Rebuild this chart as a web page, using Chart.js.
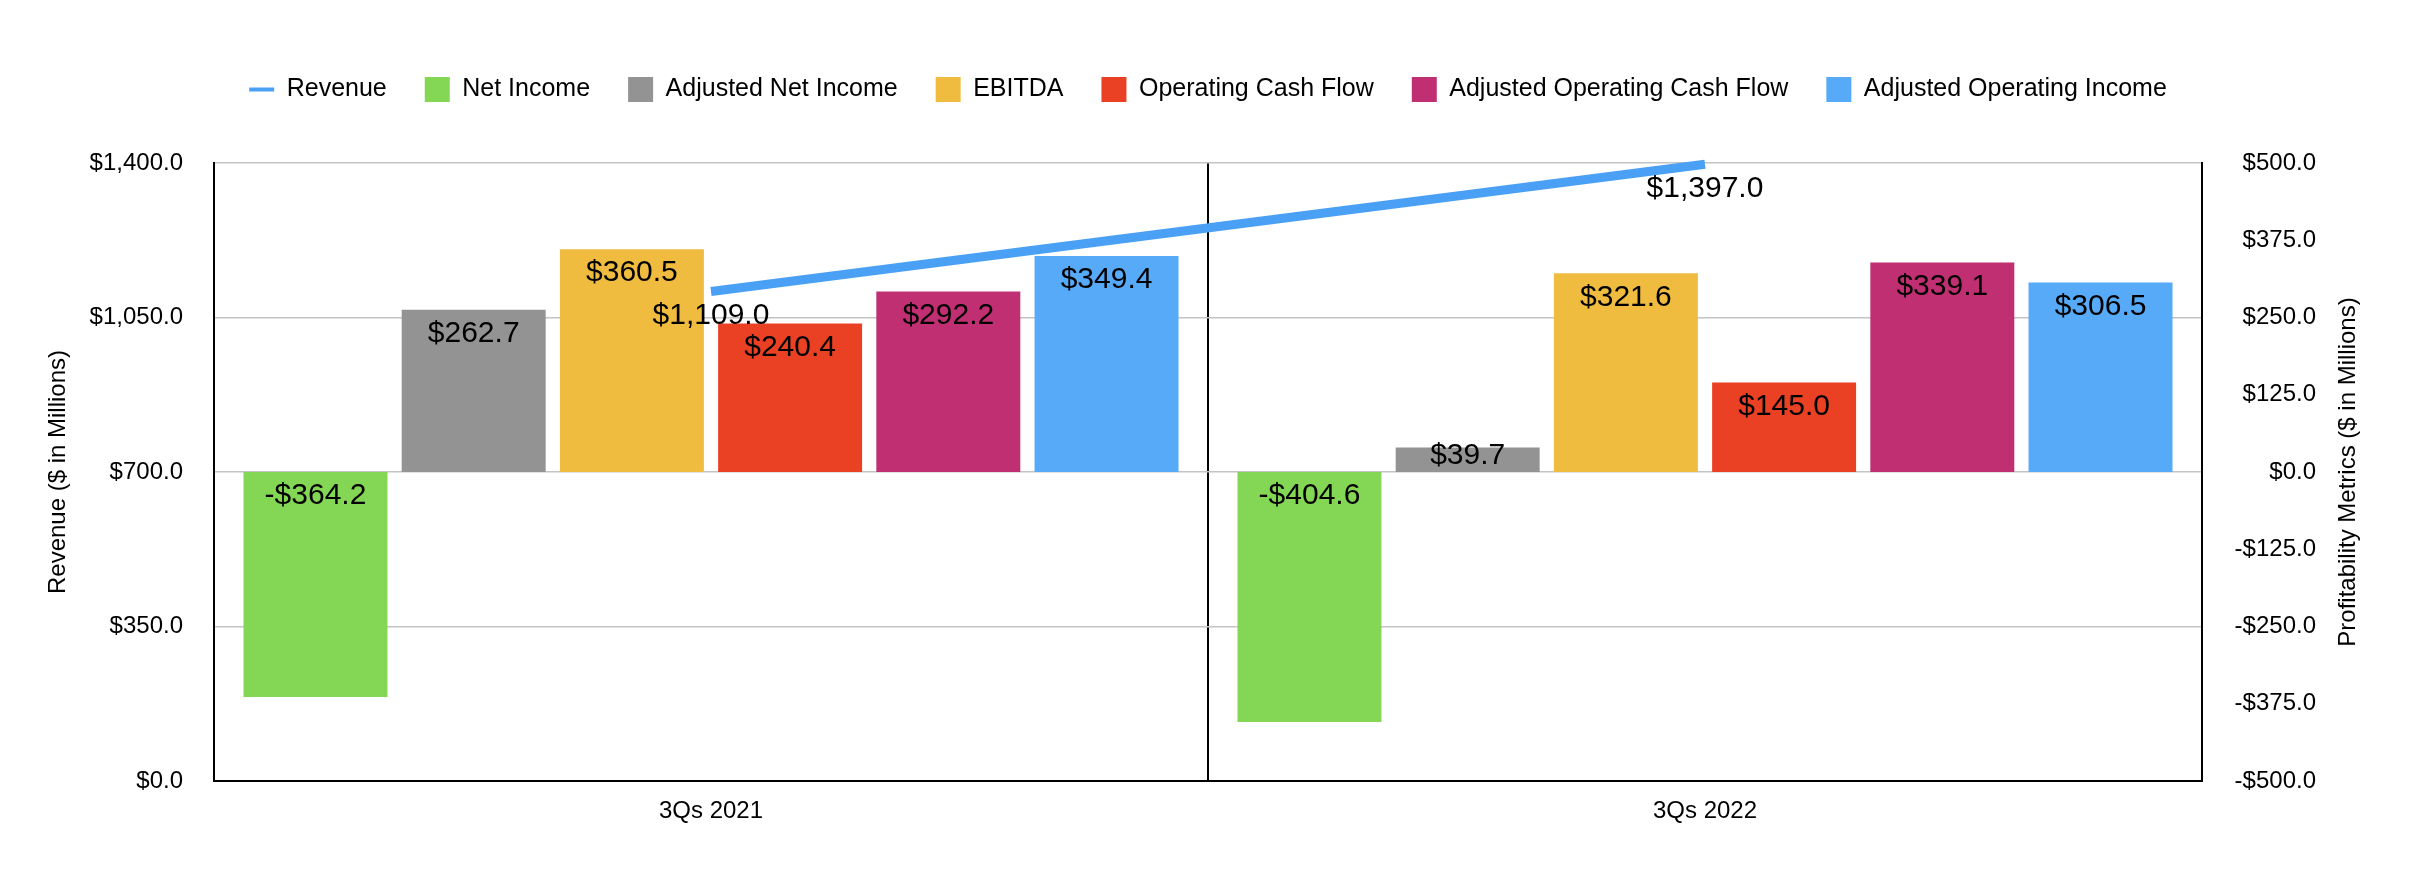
<!DOCTYPE html>
<html>
<head>
<meta charset="utf-8">
<title>Revenue and profitability metrics</title>
<script src="https://cdn.jsdelivr.net/npm/chart.js@4.4.0/dist/chart.umd.min.js"></script>
<style>
  body { margin: 0; background: #fff; }
  #wrap { width: 2416px; height: 870px; }
</style>
</head>
<body>
<div id="wrap"><canvas id="myChart" width="2416" height="870"></canvas></div>
<script>
// données (en millions de $)
const categories = ['3Qs 2021', '3Qs 2022'];
const revenue = [1109.0, 1397.0];
const netIncome = [-364.2, -404.6];
const adjNetIncome = [262.7, 39.7];
const ebitda = [360.5, 321.6];
const opCashFlow = [240.4, 145.0];
const adjOpCashFlow = [292.2, 339.1];
const adjOpIncome = [349.4, 306.5];

const fontFamily = "'Liberation Sans', Arial, Helvetica, sans-serif";
const lineColor = '#4aa0f5';
const rightTitle = 'Profitability Metrics ($ in Millions)';

function money(v) {
  const s = Math.abs(v).toLocaleString('en-US', { minimumFractionDigits: 1, maximumFractionDigits: 1 });
  return (v < 0 ? '-$' : '$') + s;
}

function barSet(label, data, color) {
  return {
    type: 'bar',
    label: label,
    data: data,
    yAxisID: 'y1',
    backgroundColor: color,
    borderWidth: 0,
    order: 1
  };
}

// étiquettes de valeurs dans les barres et sous la ligne
const valueLabels = {
  id: 'valueLabels',
  afterDatasetsDraw(chart) {
    const ctx = chart.ctx;
    ctx.save();
    ctx.font = '30px ' + fontFamily;
    ctx.fillStyle = '#000';
    ctx.textAlign = 'center';
    ctx.textBaseline = 'middle';
    chart.data.datasets.forEach((ds, i) => {
      const meta = chart.getDatasetMeta(i);
      meta.data.forEach((el, j) => {
        const v = ds.data[j];
        if (ds.type === 'line') {
          ctx.fillText(money(v), el.x, el.y + 24);
        } else {
          const top = Math.min(el.y, el.base);
          const h = Math.abs(el.base - el.y);
          const y = h < 45 ? top + 8 : top + 24;
          ctx.fillText(money(v), el.x, y);
        }
      });
    });
    ctx.restore();
  }
};

// titre de l'axe de droite, lu de bas en haut comme celui de gauche
const rightAxisTitle = {
  id: 'rightAxisTitle',
  afterDraw(chart) {
    const ctx = chart.ctx;
    const area = chart.chartArea;
    ctx.save();
    ctx.font = '24px ' + fontFamily;
    ctx.fillStyle = '#000';
    ctx.textAlign = 'center';
    ctx.textBaseline = 'middle';
    ctx.translate(2348, (area.top + area.bottom) / 2);
    ctx.rotate(-Math.PI / 2);
    ctx.fillText(rightTitle, 0, 0);
    ctx.restore();
  }
};

// espace sous la légende
const legendSpace = {
  id: 'legendSpace',
  beforeInit(chart) {
    const fitValue = chart.legend.fit;
    chart.legend.fit = function fit() {
      fitValue.bind(chart.legend)();
      this.height += 51;
    };
  }
};

const ctx = document.getElementById('myChart');

const myChart = new Chart(ctx, {
  data: {
    labels: categories,
    datasets: [
      {
        type: 'line',
        label: 'Revenue',
        data: revenue,
        yAxisID: 'y',
        borderColor: lineColor,
        backgroundColor: lineColor,
        borderWidth: 9,
        borderCapStyle: 'butt',
        pointRadius: 0,
        pointHoverRadius: 0,
        clip: false,
        order: 0
      },
      barSet('Net Income', netIncome, '#84d655'),
      barSet('Adjusted Net Income', adjNetIncome, '#939393'),
      barSet('EBITDA', ebitda, '#efbc40'),
      barSet('Operating Cash Flow', opCashFlow, '#ea4125'),
      barSet('Adjusted Operating Cash Flow', adjOpCashFlow, '#c02f72'),
      barSet('Adjusted Operating Income', adjOpIncome, '#56aaf7')
    ]
  },
  options: {
    responsive: false,
    animation: false,
    devicePixelRatio: 1,
    layout: { padding: { top: 39, left: 0, right: 0, bottom: 0 } },
    datasets: {
      bar: { categoryPercentage: 0.955, barPercentage: 0.91 }
    },
    plugins: {
      tooltip: { enabled: false },
      legend: {
        position: 'top',
        labels: {
          usePointStyle: true,
          pointStyleWidth: 25,
          boxHeight: 25,
          padding: 38,
          color: '#000',
          font: { family: fontFamily, size: 25 },
          generateLabels(chart) {
            const items = Chart.defaults.plugins.legend.labels.generateLabels(chart);
            items.forEach(item => {
              const ds = chart.data.datasets[item.datasetIndex];
              if (ds.type === 'line') {
                item.pointStyle = 'line';
                item.lineWidth = 4;
                item.strokeStyle = lineColor;
              } else {
                item.pointStyle = 'rect';
                item.lineWidth = 0;
              }
            });
            return items;
          }
        }
      }
    },
    scales: {
      x: {
        offset: true,
        grid: { display: true, offset: true, color: '#000', lineWidth: 2, drawTicks: false },
        border: { display: true, color: '#000', width: 2 },
        ticks: { color: '#000', padding: 16, font: { family: fontFamily, size: 24 } },
        afterFit(scale) { scale.height = 89; }
      },
      y: {
        position: 'left',
        min: 0,
        max: 1400,
        ticks: {
          stepSize: 350,
          color: '#000',
          padding: 31,
          font: { family: fontFamily, size: 24 },
          callback: v => money(v)
        },
        grid: { color: '#c4c4c4', lineWidth: 1.5, drawTicks: false },
        border: { display: true, color: '#000', width: 2 },
        title: {
          display: true,
          text: 'Revenue ($ in Millions)',
          color: '#000',
          padding: { top: 44 },
          font: { family: fontFamily, size: 24 }
        },
        afterFit(scale) { scale.width = 214; }
      },
      y1: {
        position: 'right',
        min: -500,
        max: 500,
        ticks: {
          stepSize: 125,
          color: '#000',
          crossAlign: 'far',
          font: { family: fontFamily, size: 24 },
          callback: v => money(v)
        },
        grid: { display: false, drawTicks: false },
        border: { display: true, color: '#000', width: 2 },
        afterFit(scale) { scale.width = 114; }
      },
      // axe vide : réserve la place du titre de droite
      y2: {
        position: 'right',
        min: -500,
        max: 500,
        ticks: { display: false },
        grid: { display: false, drawTicks: false },
        border: { display: false },
        afterFit(scale) { scale.width = 100; }
      }
    }
  },
  plugins: [valueLabels, rightAxisTitle, legendSpace]
});
</script>
</body>
</html>
